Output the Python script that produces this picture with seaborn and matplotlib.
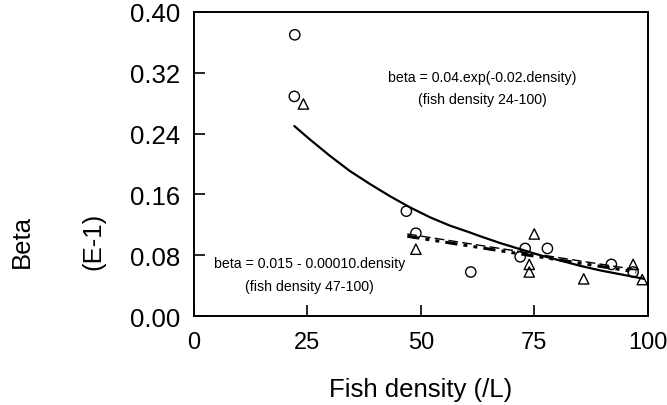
import numpy as np
import pandas as pd
import matplotlib
matplotlib.use('Agg')
import matplotlib.pyplot as plt
import seaborn as sns

# --- data (Beta in E-1 units) ---
circle_x = [22.2, 22.1, 46.8, 48.9, 61.0, 71.9, 73.0, 77.9, 92.0, 96.8]
circle_y = [0.370, 0.289, 0.138, 0.109, 0.058, 0.078, 0.089, 0.089, 0.068, 0.058]

triangle_x = [24.1, 48.9, 75.0, 73.9, 73.9, 85.9, 96.8, 98.8]
triangle_y = [0.279, 0.088, 0.108, 0.068, 0.058, 0.049, 0.068, 0.048]

# exponential fit curve
exp_x = [22.1, 25.4, 29.9, 34.3, 38.7, 43.1, 47.6, 52.0, 56.4, 60.8,
         63.1, 67.5, 71.9, 76.3, 80.8, 85.2, 89.6, 94.0, 99.2]
exp_y = [0.250, 0.233, 0.211, 0.191, 0.174, 0.158, 0.143, 0.130, 0.119, 0.110,
         0.105, 0.096, 0.088, 0.080, 0.073, 0.066, 0.060, 0.055, 0.049]

# linear fit lines (two overlapping styles)
lin1_x = [47.0, 97.5]
lin1_y = [0.108, 0.061]
lin2_x = [47.0, 97.5]
lin2_y = [0.105, 0.058]

x_ticks = [0, 25, 50, 75, 100]
y_ticks = [0.00, 0.08, 0.16, 0.24, 0.32, 0.40]

sns.set_style('ticks')
plt.rcParams['font.family'] = ['Liberation Sans', 'DejaVu Sans']
plt.rcParams['text.color'] = 'black'
plt.rcParams['axes.labelcolor'] = 'black'
plt.rcParams['xtick.color'] = 'black'
plt.rcParams['ytick.color'] = 'black'
plt.rcParams['axes.edgecolor'] = 'black'

fig = plt.figure(figsize=(6.67, 4.06), dpi=100)
ax = fig.add_axes([0.291, 0.219, 0.680, 0.749])

sns.lineplot(x=exp_x, y=exp_y, ax=ax, color='black', linewidth=1.6)
sns.lineplot(x=lin1_x, y=lin1_y, ax=ax, color='black', linewidth=1.0,
             linestyle=(0, (7, 3)))
sns.lineplot(x=lin2_x, y=lin2_y, ax=ax, color='black', linewidth=2.2,
             linestyle=(0, (4, 2, 1.3, 2, 1.3, 2)))

sns.scatterplot(x=circle_x, y=circle_y, ax=ax, marker='o', s=55,
                facecolors='none', edgecolor='black', linewidth=1.0, zorder=3)
sns.scatterplot(x=triangle_x, y=triangle_y, ax=ax, marker='^', s=55,
                facecolors='none', edgecolor='black', linewidth=1.0, zorder=3)

ax.set_xlim(0, 100)
ax.set_ylim(0, 0.40)
ax.set_xticks(x_ticks)
ax.set_yticks(y_ticks)
ax.set_yticklabels([f'{v:.2f}' for v in y_ticks])
ax.tick_params(direction='in', length=8, width=1.2, labelsize=18.5, pad=10)
ax.tick_params(axis='x', pad=11, labelsize=17)
for sp in ax.spines.values():
    sp.set_visible(True)
    sp.set_linewidth(1.4)

ax.set_xlabel('Fish density (/L)', fontsize=18.5, labelpad=17)
ax.set_ylabel('')

fig.text(0.033, 0.405, 'Beta', rotation=90, fontsize=18.5, ha='center', va='center')
fig.text(0.140, 0.405, '(E-1)', rotation=90, fontsize=18.5, ha='center', va='center')

ax.text(63.5, 0.314, 'beta = 0.04.exp(-0.02.density)', fontsize=10.2,
        ha='center', va='center')
ax.text(63.5, 0.286, '(fish density 24-100)', fontsize=10.2,
        ha='center', va='center')
ax.text(25.4, 0.070, 'beta = 0.015 - 0.00010.density', fontsize=10.2,
        ha='center', va='center')
ax.text(25.4, 0.039, '(fish density 47-100)', fontsize=10.2,
        ha='center', va='center')

fig.savefig('out.png', dpi=100)
